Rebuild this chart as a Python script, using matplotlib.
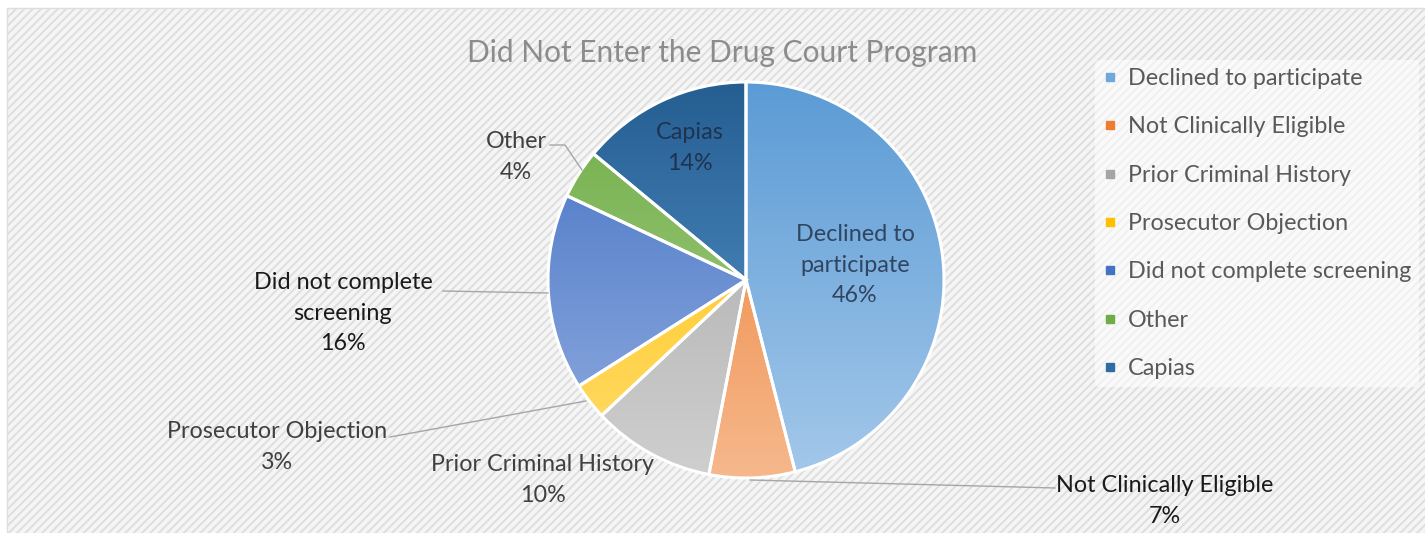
import numpy as np
import matplotlib
matplotlib.use("Agg")
import matplotlib.pyplot as plt
from matplotlib.colors import LinearSegmentedColormap
from matplotlib.lines import Line2D
from matplotlib.patches import Rectangle

# ---- data ----
categories = ["Declined to participate", "Not Clinically Eligible", "Prior Criminal History",
              "Prosecutor Objection", "Did not complete screening", "Other", "Capias"]
values = [46, 7, 10, 3, 16, 4, 14]
label_texts = ["Declined to\nparticipate", "Not Clinically Eligible", "Prior Criminal History",
               "Prosecutor Objection", "Did not complete\nscreening", "Other", "Capias"]
title = "Did Not Enter the Drug Court Program"

# ---- style ----
top_colors = ["#5b9bd5", "#ed7d31", "#a5a5a5", "#ffc000", "#4472c4", "#70ad47", "#255e91"]
bot_colors = ["#a4c8ea", "#f6b88c", "#cfcfcf", "#ffdc6e", "#93aee0", "#abd28e", "#5d9bd3"]
legend_colors = ["#6fa8dc", "#ed7d31", "#a5a5a5", "#ffc000", "#4472c4", "#70ad47", "#2e6ca4"]

W, H = 1425, 533
plt.rcParams['font.family'] = ['Lato', 'DejaVu Sans']
plt.rcParams['hatch.linewidth'] = 1.4

fig = plt.figure(figsize=(W / 100, H / 100), dpi=100)
ax = fig.add_axes([0, 0, 1, 1])

# background with diagonal pattern
ax.add_patch(Rectangle((7, -5), W, H - 8 + 5, facecolor="#f5f5f5", edgecolor="#dedede",
                       hatch="////", lw=1.0, zorder=0))

cx, cy, R = 746, H - 280, 198
wedges, _ = ax.pie(values, startangle=90, counterclock=False, center=(cx, cy), radius=R,
                   wedgeprops=dict(edgecolor="white", linewidth=2.2), frame=True)

grad = np.linspace(0, 1, 256).reshape(-1, 1)
for w, c1, c2 in zip(wedges, top_colors, bot_colors):
    w.set_facecolor("none")
    w.set_zorder(3)
    cmap = LinearSegmentedColormap.from_list("g", [c1, c2])
    im = ax.imshow(grad, cmap=cmap, extent=(cx - R, cx + R, cy - R, cy + R),
                   origin="upper", aspect="auto", zorder=2)
    im.set_clip_path(w)

ax.set_xlim(0, W)
ax.set_ylim(0, H)
ax.set_aspect('equal')
ax.axis('off')

pct = [f"{v}%" for v in values]
fs = 16.8
ls = 1.58
def Y(y):
    return H - y

# inside labels
ax.text(855, Y(265), f"{label_texts[0]}\n{pct[0]}", ha="center", va="center",
        fontsize=fs, color="#2f4560", zorder=5, linespacing=ls)
ax.text(690, Y(148), f"{label_texts[6]}\n{pct[6]}", ha="center", va="center",
        fontsize=fs, color="#1f3350", zorder=5, linespacing=ls)
# outside labels
ax.text(516, Y(157), f"{label_texts[5]}\n{pct[5]}", ha="center", va="center",
        fontsize=fs, color="#404040", zorder=5, linespacing=ls)
ax.text(343, Y(313), f"{label_texts[4]}\n{pct[4]}", ha="center", va="center",
        fontsize=fs, color="#1a1a1a", zorder=5, linespacing=ls)
ax.text(277, Y(447), f"{label_texts[3]}\n{pct[3]}", ha="center", va="center",
        fontsize=fs, color="#404040", zorder=5, linespacing=ls)
ax.text(543, Y(480), f"{label_texts[2]}\n{pct[2]}", ha="center", va="center",
        fontsize=fs, color="#404040", zorder=5, linespacing=ls)
ax.text(1165, Y(501), f"{label_texts[1]}\n{pct[1]}", ha="center", va="center",
        fontsize=fs, color="#1a1a1a", zorder=5, linespacing=ls)

# leader lines
lc = "#a6a6a6"
ax.plot([550, 565, 582], [Y(145), Y(145), Y(170)], color=lc, lw=1, zorder=4)
ax.plot([443, 548], [Y(291), Y(293)], color=lc, lw=1, zorder=4)
ax.plot([390, 586], [Y(437), Y(401)], color=lc, lw=1, zorder=4)
ax.plot([750, 1055], [Y(480), Y(488)], color=lc, lw=1, zorder=4)

# title
ax.text(722, Y(53), title, ha="center", va="center", fontsize=21.5, color="#8c8c8c", zorder=5)

# legend
handles = [Line2D([], [], marker="s", linestyle="none", markersize=5.5,
                  markerfacecolor=c, markeredgecolor=c) for c in legend_colors]
leg = ax.legend(handles, categories, loc="upper left", bbox_to_anchor=(1095, Y(60)),
                bbox_transform=ax.transData, frameon=True, fontsize=fs,
                labelspacing=1.17, handlelength=0.6, handletextpad=0.45,
                borderpad=0.35, borderaxespad=0, labelcolor="#595959")
leg.get_frame().set_facecolor("white")
leg.get_frame().set_alpha(0.55)
leg.get_frame().set_edgecolor("none")
leg.set_zorder(6)

fig.savefig("out.png", dpi=100)
